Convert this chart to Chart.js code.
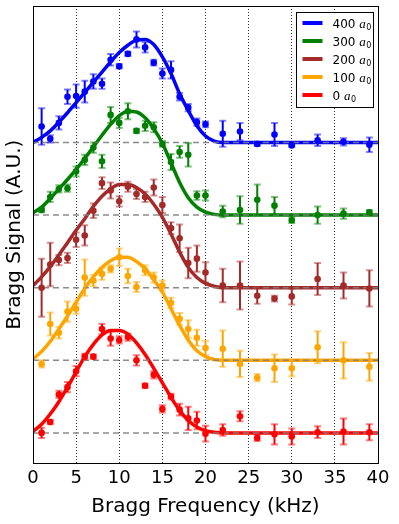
<!DOCTYPE html>
<html lang="en">
<head>
  <meta charset="UTF-8">
  <title>Bragg spectra</title>
  <style>
    html, body { margin: 0; padding: 0; background: #fff; }
  </style>
</head>
<body>
  <canvas id="chart" width="399" height="524"></canvas>

  <script src="https://cdn.jsdelivr.net/npm/chart.js@4/dist/chart.umd.min.js"></script>

  <script>
    // measured frequencies (kHz)
    const freq = [1, 2, 3, 4, 5, 6, 7, 8, 9, 10, 11, 12, 13, 14, 15, 16, 17, 18, 19, 20, 22, 24, 26, 28, 30, 33, 36, 39]
    // frequencies where the fit curves were read
    const fitFreq = [0, 1, 2, 3, 4, 5, 6, 7, 8, 9, 10, 11, 12, 13, 14, 15, 16, 17, 18, 19, 20, 21, 22, 40]
    const xTicks = [0, 5, 10, 15, 20, 25, 30, 35, 40]

    const labels = ['400', '300', '200', '100', '0']
    const colors = ['#0000ff', '#008000', '#a52a2a', '#ffa500', '#ff0000']
    // vertical offset of each trace
    const offsets = [4, 3, 2, 1, 0]

    // 400 a0
    const sig400 = [0.22, 0.05, 0.27, 0.63, 0.64, 0.70, 0.84, 0.81, 1.14, 1.05, 1.22, 1.42, 1.31, 1.10, 0.95, 1.00, 0.63, 0.48, 0.28, 0.25, 0.12, 0.15, -0.02, 0.11, -0.04, 0.03, 0.01, -0.03]
    const err400 = [0.25, 0.05, 0.09, 0.10, 0.16, 0.15, 0.10, 0.07, 0.08, 0.03, 0.03, 0.11, 0.07, 0.04, 0.07, 0.12, 0.05, 0.05, 0.05, 0.04, 0.18, 0.12, 0.03, 0.16, 0.02, 0.08, 0.05, 0.10]
    const fit400 = [0.0, 0.07, 0.16, 0.28, 0.41, 0.55, 0.69, 0.83, 0.97, 1.11, 1.24, 1.34, 1.41, 1.42, 1.35, 1.18, 0.95, 0.67, 0.44, 0.23, 0.09, 0.02, 0.0, 0.0]

    // 300 a0
    const sig300 = [0.07, 0.25, 0.36, 0.37, 0.60, 0.76, 0.93, 0.74, 1.38, 1.27, 1.43, 1.16, 1.23, 1.21, 0.98, 0.73, 0.87, 0.83, 0.27, 0.27, 0.05, 0.07, 0.21, 0.13, -0.07, 0.0, 0.02, 0.04]
    const err300 = [0.03, 0.07, 0.05, 0.05, 0.07, 0.07, 0.07, 0.09, 0.11, 0.07, 0.11, 0.03, 0.07, 0.07, 0.04, 0.11, 0.08, 0.16, 0.06, 0.07, 0.08, 0.19, 0.21, 0.12, 0.04, 0.12, 0.07, 0.03]
    const fit300 = [0.03, 0.11, 0.23, 0.36, 0.49, 0.63, 0.78, 0.94, 1.10, 1.25, 1.37, 1.43, 1.42, 1.34, 1.19, 0.99, 0.72, 0.45, 0.24, 0.11, 0.04, 0.01, 0.0, 0.0]

    // 200 a0
    const sig200 = [0.0, 0.32, 0.38, 0.41, 0.66, 0.72, 1.06, 1.44, 1.34, 1.19, 1.39, 1.29, 1.25, 1.38, 1.14, 0.82, 0.68, 0.34, 0.40, 0.21, 0.03, 0.03, -0.11, -0.15, -0.12, 0.12, 0.03, -0.01]
    const err200 = [0.40, 0.30, 0.07, 0.07, 0.10, 0.14, 0.10, 0.08, 0.11, 0.07, 0.07, 0.07, 0.07, 0.11, 0.11, 0.08, 0.19, 0.21, 0.18, 0.14, 0.23, 0.33, 0.11, 0.04, 0.11, 0.22, 0.18, 0.25]
    const fit200 = [0.03, 0.15, 0.29, 0.45, 0.62, 0.79, 0.95, 1.12, 1.26, 1.36, 1.42, 1.42, 1.38, 1.29, 1.15, 0.97, 0.74, 0.49, 0.28, 0.14, 0.06, 0.02, 0.0, 0.0]

    // 100 a0
    const sig100 = [-0.05, 0.50, 0.38, 0.67, 0.71, 1.14, 1.10, 1.19, 1.26, 1.42, 1.16, 1.01, 1.24, 1.14, 1.03, 0.79, 0.57, 0.43, 0.31, 0.17, 0.16, -0.05, -0.24, -0.11, -0.11, 0.18, 0.0, -0.09]
    const err100 = [0.05, 0.16, 0.08, 0.14, 0.07, 0.25, 0.08, 0.08, 0.05, 0.12, 0.10, 0.07, 0.07, 0.07, 0.07, 0.07, 0.08, 0.12, 0.11, 0.10, 0.25, 0.18, 0.05, 0.19, 0.11, 0.22, 0.25, 0.19]
    const fit100 = [0.02, 0.12, 0.26, 0.43, 0.61, 0.80, 0.99, 1.15, 1.28, 1.37, 1.42, 1.42, 1.36, 1.26, 1.11, 0.94, 0.71, 0.48, 0.28, 0.13, 0.05, 0.01, 0.0, 0.0]

    // 0 a0
    const sig0 = [0.0, 0.15, 0.53, 0.63, 0.85, 1.05, 1.05, 1.43, 1.30, 1.28, 1.32, 1.00, 0.65, 0.80, 0.33, 0.50, 0.32, 0.20, 0.17, -0.01, 0.04, 0.23, -0.07, -0.02, -0.05, 0.01, 0.02, 0.01]
    const err0 = [0.07, 0.03, 0.05, 0.07, 0.07, 0.04, 0.03, 0.07, 0.10, 0.05, 0.05, 0.07, 0.03, 0.05, 0.05, 0.04, 0.08, 0.16, 0.12, 0.11, 0.08, 0.07, 0.04, 0.14, 0.11, 0.08, 0.18, 0.11]
    const fit0 = [0.02, 0.12, 0.26, 0.43, 0.63, 0.84, 1.05, 1.22, 1.35, 1.41, 1.41, 1.36, 1.24, 1.08, 0.89, 0.69, 0.49, 0.31, 0.17, 0.08, 0.03, 0.01, 0.0, 0.0]

    const signals = [sig400, sig300, sig200, sig100, sig0]
    const errors = [err400, err300, err200, err100, err0]
    const fits = [fit400, fit300, fit200, fit100, fit0]

    const FONT = "'DejaVu Sans', sans-serif"

    const datasets = []
    labels.forEach((lab, i) => {
      const off = offsets[i]
      // fit curve
      datasets.push({
        label: lab + ' fit',
        data: fitFreq.map((x, j) => ({ x: x, y: off + fits[i][j] })),
        borderColor: colors[i],
        borderWidth: 3.5,
        pointRadius: 0,
        cubicInterpolationMode: 'monotone',
        order: 3,
      })
      // dashed zero line
      datasets.push({
        label: lab + ' zero',
        data: [{ x: 0, y: off }, { x: 40, y: off }],
        borderColor: 'rgba(128,128,128,0.9)',
        borderWidth: 1.5,
        borderDash: [6, 4],
        pointRadius: 0,
        order: 2,
      })
      // data points
      datasets.push({
        label: lab,
        data: freq.map((x, j) => ({ x: x, y: off + signals[i][j] })),
        errors: errors[i],
        showLine: false,
        pointRadius: 3.3,
        pointBackgroundColor: colors[i],
        pointBorderWidth: 0,
        borderColor: colors[i],
        order: 1,
      })
    })

    // vertical error bars with caps
    const errorBars = {
      id: 'errorBars',
      afterDatasetsDraw(chart) {
        const c = chart.ctx
        const xs = chart.scales.x
        const ys = chart.scales.y
        const a = chart.chartArea
        c.save()
        c.beginPath()
        c.rect(a.left, a.top, a.right - a.left, a.bottom - a.top)
        c.clip()
        chart.data.datasets.forEach(ds => {
          if (!ds.errors) return
          ds.data.forEach((p, j) => {
            const e = ds.errors[j]
            const px = xs.getPixelForValue(p.x)
            const y1 = ys.getPixelForValue(p.y + e)
            const y2 = ys.getPixelForValue(p.y - e)
            c.strokeStyle = ds.borderColor
            c.lineWidth = 2
            c.globalAlpha = 1
            c.beginPath()
            c.moveTo(px, y1)
            c.lineTo(px, y2)
            c.stroke()
            c.globalAlpha = 0.5
            c.beginPath()
            c.moveTo(px - 3.5, y1)
            c.lineTo(px + 3.5, y1)
            c.moveTo(px - 3.5, y2)
            c.lineTo(px + 3.5, y2)
            c.stroke()
          })
        })
        c.restore()
      }
    }

    // black frame round the plot area
    const frame = {
      id: 'frame',
      afterDraw(chart) {
        const a = chart.chartArea
        const c = chart.ctx
        c.save()
        c.strokeStyle = '#000'
        c.lineWidth = 1
        c.strokeRect(Math.round(a.left) + 0.5, Math.round(a.top) + 0.5,
          Math.round(a.right - a.left), Math.round(a.bottom - a.top))
        c.restore()
      }
    }

    // legend box in the top right corner
    const legendBox = {
      id: 'legendBox',
      afterDraw(chart) {
        const a = chart.chartArea
        const c = chart.ctx
        const w = 77, h = 95
        const x0 = Math.round(a.right - 5 - w) + 0.5
        const y0 = Math.round(a.top + 6) + 0.5
        c.save()
        c.fillStyle = '#fff'
        c.fillRect(x0, y0, w, h)
        c.strokeStyle = '#000'
        c.lineWidth = 1
        c.strokeRect(x0, y0, w, h)
        labels.forEach((lab, i) => {
          const yc = y0 + 10.5 + i * 18
          c.strokeStyle = colors[i]
          c.lineWidth = 4
          c.beginPath()
          c.moveTo(x0 + 6, yc)
          c.lineTo(x0 + 26, yc)
          c.stroke()
          c.fillStyle = '#000'
          c.textBaseline = 'alphabetic'
          c.font = '12px ' + FONT
          const t = lab + ' '
          c.fillText(t, x0 + 36, yc + 4.5)
          let tx = x0 + 36 + c.measureText(t).width
          c.font = "italic 13px 'Liberation Serif', serif"
          c.fillText('a', tx, yc + 4.5)
          tx += c.measureText('a').width + 0.5
          c.font = '8px ' + FONT
          c.fillText('0', tx, yc + 7)
        })
        c.restore()
      }
    }

    new Chart(document.getElementById('chart'), {
      type: 'line',
      data: { datasets: datasets },
      options: {
        responsive: false,
        animation: false,
        layout: { padding: { left: 3, right: 21, top: 6, bottom: 1 } },
        plugins: {
          legend: { display: false },
          tooltip: { enabled: false },
        },
        scales: {
          x: {
            type: 'linear',
            min: 0,
            max: 40,
            afterBuildTicks: axis => { axis.ticks = xTicks.map(v => ({ value: v })) },
            border: { display: false, dash: [1, 2] },
            grid: {
              color: 'rgba(0,0,0,0.8)',
              lineWidth: 1,
              drawTicks: false,
            },
            ticks: {
              color: '#000',
              padding: 4,
              maxRotation: 0,
              font: { family: FONT, size: 18 },
            },
            title: {
              display: true,
              text: 'Bragg Frequency (kHz)',
              color: '#000',
              padding: { top: 2, bottom: 4 },
              font: { family: FONT, size: 20 },
            },
          },
          y: {
            min: -0.42,
            max: 5.88,
            border: { display: false },
            grid: { display: false, drawTicks: false },
            ticks: { display: false },
            title: {
              display: true,
              text: 'Bragg Signal (A.U.)',
              color: '#000',
              padding: { top: 0, bottom: 6 },
              font: { family: FONT, size: 20 },
            },
          },
        },
      },
      plugins: [errorBars, frame, legendBox],
    })
  </script>
</body>
</html>
